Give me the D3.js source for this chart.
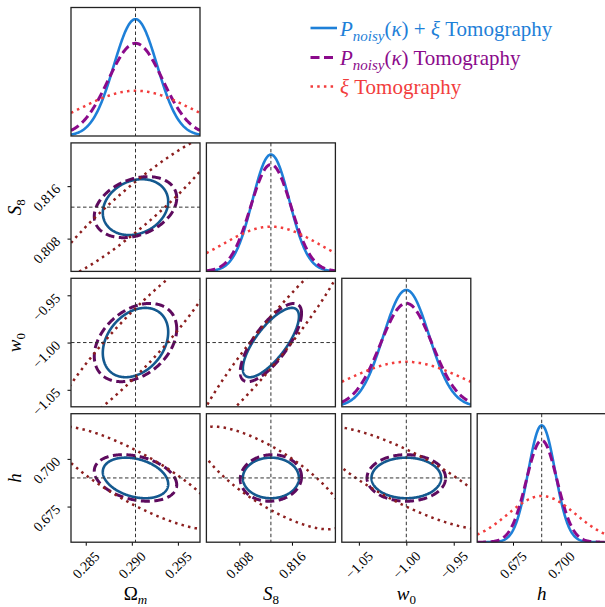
<!DOCTYPE html>
<html>
<head>
<meta charset="utf-8">
<script src="https://cdn.jsdelivr.net/npm/d3@7"></script>
<style>
  body { margin: 0; background: #fff; }
  #chart text, #chart tspan { font-family: "Liberation Serif", "Times New Roman", serif !important; }
</style>
</head>
<body>
<svg id="chart" width="605" height="607" font-family="Liberation Serif"></svg>
<script>
/* DATA */
const params = ["Omega_m", "S_8", "w_0", "h"];
const fiducial = [0.2904, 0.8128, -1.0, 0.6900];
const halfRange = [0.0070, 0.0098, 0.068, 0.0337];
const tickValues = [[0.285, 0.290, 0.295], [0.808, 0.816], [-1.05, -1.00, -0.95], [0.675, 0.700]];
const tickFormats = [".3f", ".3f", ".2f", ".3f"];

// 1-sigma errors for each forecast
const sigmaCombined = [0.00234, 0.00281, 0.0242, 0.00702];
const sigmaKappa = [0.00295, 0.00307, 0.0273, 0.00805];
const sigmaXi = [0.00604, 0.00733, 0.0629, 0.01776];

// correlation coefficients, pair order below
const pairs = [[0, 1], [0, 2], [0, 3], [1, 2], [1, 3], [2, 3]];
const rhoCombined = [0.20, 0.30, -0.30, 0.75, 0.00, 0.00];
const rhoKappa = [0.30, 0.35, -0.30, 0.75, 0.05, 0.00];
const rhoXi = [0.937, 0.925, -0.84, 0.958, -0.78, -0.83];

/* CONSTANTS AND GLOBALS */
const left0 = 71, top0 = 7.5, pw = 129, ph = 128.5, step = 135.4;
const K = 2.30; // delta chi^2 for the 68% 2D contour
const FONT = "Liberation Serif";

const series = [
  { sigma: sigmaCombined, rho: rhoCombined, line: "#1e80d8", contour: "#14598f", dash: null, lw: 2.6 },
  { sigma: sigmaKappa, rho: rhoKappa, line: "#8b0a8b", contour: "#5e0b5e", dash: "9,4.5", lw: 3 },
  { sigma: sigmaXi, rho: rhoXi, line: "#f23d3d", contour: "#8c1f1f", dash: "2.5,4.2", lw: 2.5 }
];

const svg = d3.select("#chart");

function pairIndex(a, b) {
  return pairs.findIndex(p => p[0] === a && p[1] === b);
}

for (let i = 0; i < 4; i++) {
  for (let j = 0; j <= i; j++) {
    const g = svg.append("g")
      .attr("transform", `translate(${left0 + j * step},${top0 + i * step})`);

    const clipId = `clip-${i}-${j}`;
    g.append("clipPath").attr("id", clipId)
      .append("rect").attr("width", pw).attr("height", ph);

    const x = d3.scaleLinear()
      .domain([fiducial[j] - halfRange[j], fiducial[j] + halfRange[j]])
      .range([0, pw]);

    const plot = g.append("g").attr("clip-path", `url(#${clipId})`);

    if (i === j) {
      // marginal gaussians
      const xs = d3.range(0, 241).map(k => x.invert(k * pw / 240));
      const pdf = (v, s) => Math.exp(-0.5 * ((v - fiducial[j]) / s) ** 2) / s;
      const ymax = d3.max(series, s => 1 / s.sigma[j]) * 1.1;
      const y = d3.scaleLinear().domain([0, ymax]).range([ph, 0]);
      series.forEach(s => {
        plot.append("path")
          .datum(xs)
          .attr("d", d3.line().x(v => x(v)).y(v => y(pdf(v, s.sigma[j]))))
          .attr("fill", "none")
          .attr("stroke", s.line)
          .attr("stroke-width", s.lw)
          .attr("stroke-dasharray", s.dash);
      });
    } else {
      const y = d3.scaleLinear()
        .domain([fiducial[i] - halfRange[i], fiducial[i] + halfRange[i]])
        .range([ph, 0]);
      const p = pairIndex(j, i);
      series.forEach(s => {
        const sx = s.sigma[j], sy = s.sigma[i], r = s.rho[p];
        const ts = d3.range(0, 361).map(k => k * Math.PI / 180);
        const pts = ts.map(t => [
          fiducial[j] + Math.sqrt(K) * sx * Math.cos(t),
          fiducial[i] + Math.sqrt(K) * sy * (r * Math.cos(t) + Math.sqrt(1 - r * r) * Math.sin(t))
        ]);
        plot.append("path")
          .datum(pts)
          .attr("d", d3.line().x(d => x(d[0])).y(d => y(d[1])))
          .attr("fill", "none")
          .attr("stroke", s.contour)
          .attr("stroke-width", s.lw)
          .attr("stroke-dasharray", s.dash);
      });
      // horizontal truth line
      g.append("line")
        .attr("x1", 0).attr("x2", pw)
        .attr("y1", y(fiducial[i])).attr("y2", y(fiducial[i]))
        .attr("stroke", "#333").attr("stroke-width", 1).attr("stroke-dasharray", "3.5,2.5");

      if (j === 0) {
        const ax = g.append("g")
          .call(d3.axisLeft(y).tickValues(tickValues[i]).tickFormat(d3.format(tickFormats[i])).tickSize(3.5).tickPadding(5))
          .attr("font-family", FONT);
        ax.select(".domain").remove();
        ax.selectAll("text")
          .attr("x", -13).attr("dy", null)
          .attr("fill", "#000")
          .attr("font-family", FONT)
          .attr("font-size", 14)
          .attr("dominant-baseline", "central")
          .attr("transform", "rotate(-45,-13,0)");
      }
    }

    // vertical truth line
    g.append("line")
      .attr("x1", x(fiducial[j])).attr("x2", x(fiducial[j]))
      .attr("y1", 0).attr("y2", ph)
      .attr("stroke", "#333").attr("stroke-width", 1).attr("stroke-dasharray", "3.5,2.5");

    if (i === 3) {
      const ax = g.append("g")
        .attr("transform", `translate(0,${ph})`)
        .call(d3.axisBottom(x).tickValues(tickValues[j]).tickFormat(d3.format(tickFormats[j])).tickSize(3.5).tickPadding(5))
        .attr("font-family", FONT);
      ax.select(".domain").remove();
      ax.selectAll("text")
        .attr("y", 23).attr("dy", null)
        .attr("fill", "#000")
        .attr("font-family", FONT)
        .attr("font-size", 14)
        .attr("text-anchor", "middle")
        .attr("dominant-baseline", "central")
        .attr("transform", "rotate(-45,0,23)");
    }

    // frame
    g.append("rect")
      .attr("width", pw).attr("height", ph)
      .attr("fill", "none").attr("stroke", "#222").attr("stroke-width", 1.3);
  }
}

/* AXIS LABELS */
const labelParts = [
  [["Ω", "normal", 0], ["m", "italic", 1]],
  [["S", "italic", 0], ["8", "normal", 1]],
  [["w", "italic", 0], ["0", "normal", 1]],
  [["h", "italic", 0]]
];

function writeLabel(t, parts) {
  let sub = 0;
  parts.forEach(([txt, style, isSub]) => {
    const dy = isSub && !sub ? 4 : (!isSub && sub ? -4 : 0);
    t.append("tspan")
      .attr("font-family", FONT)
      .attr("font-style", style)
      .attr("font-size", isSub ? 13 : 19)
      .attr("dy", dy)
      .text(txt);
    sub = isSub;
  });
}

params.forEach((p, k) => {
  const cx = left0 + k * step + pw / 2;
  const t = svg.append("text")
    .attr("font-family", FONT)
    .attr("x", cx).attr("y", 600)
    .attr("text-anchor", "middle");
  writeLabel(t, labelParts[k]);

  if (k > 0) {
    const cy = top0 + k * step + ph / 2;
    const tl = svg.append("text")
      .attr("font-family", FONT)
      .attr("text-anchor", "middle")
      .attr("transform", `translate(21,${cy}) rotate(-90)`);
    writeLabel(tl, labelParts[k]);
  }
});

/* LEGEND */
const legendRows = [
  { y: 28, parts: [["P", "italic", 0], ["noisy", "italic", 1], ["(", "normal", 0], ["κ", "italic", 0], [") + ", "normal", 0], ["ξ", "italic", 0], [" Tomography", "normal", 0]] },
  { y: 57.5, parts: [["P", "italic", 0], ["noisy", "italic", 1], ["(", "normal", 0], ["κ", "italic", 0], [") Tomography", "normal", 0]] },
  { y: 86.5, parts: [["ξ", "italic", 0], [" Tomography", "normal", 0]] }
];

legendRows.forEach((row, k) => {
  const s = series[k];
  svg.append("line")
    .attr("x1", 310.5).attr("x2", 337)
    .attr("y1", row.y).attr("y2", row.y)
    .attr("stroke", s.line).attr("stroke-width", s.lw)
    .attr("stroke-dasharray", s.dash);
  const t = svg.append("text")
    .attr("font-family", FONT)
    .attr("x", 340).attr("y", row.y + 7.5)
    .attr("fill", s.line);
  let sub = 0;
  row.parts.forEach(([txt, style, isSub]) => {
    const dy = isSub && !sub ? 5 : (!isSub && sub ? -5 : 0);
    t.append("tspan")
      .attr("font-family", FONT)
      .attr("font-style", style)
      .attr("font-size", isSub ? 15 : 21)
      .attr("dy", dy)
      .style("white-space", "pre")
      .text(txt);
    sub = isSub;
  });
});
</script>
</body>
</html>
